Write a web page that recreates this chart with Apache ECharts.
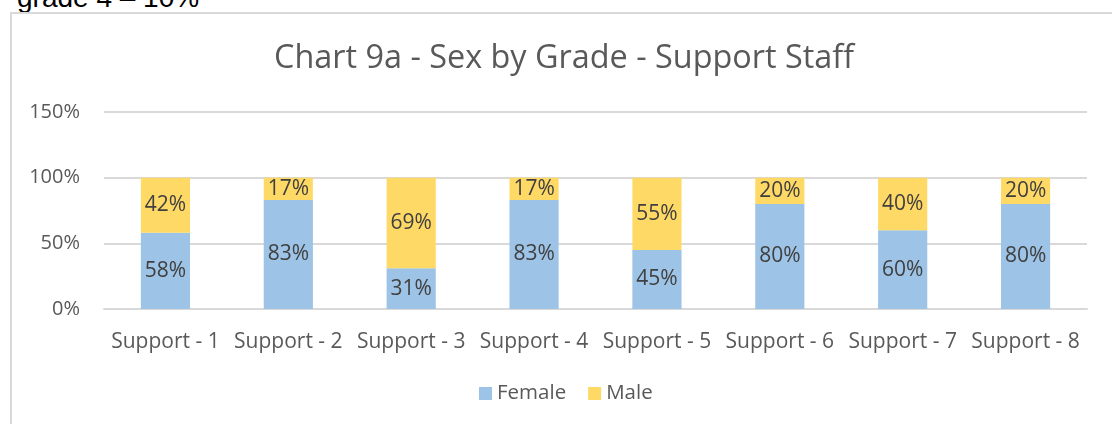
<!DOCTYPE html>
<html>
<head>
<meta charset="utf-8">
<script src="https://cdn.jsdelivr.net/npm/echarts@6/dist/echarts.min.js"></script>
<style>
  html, body { margin: 0; padding: 0; background: #fff; overflow: hidden; }
  #note {
    position: absolute; left: 17px; top: -18px; line-height: 28px;
    font: 28px "Liberation Sans", Arial, sans-serif; color: #000;
  }
  #frame {
    position: absolute; left: 10px; top: 12px; width: 1200px; height: 500px;
    border: 2px solid #d9d9d9; box-sizing: border-box;
  }
  #chart { position: absolute; left: 0; top: 0; width: 1112px; height: 424px; }
</style>
</head>
<body>
<div id="note">grade 4 – 10%</div>
<div id="frame"></div>
<div id="chart"></div>
<script>
const grades = ['Support - 1', 'Support - 2', 'Support - 3', 'Support - 4',
                'Support - 5', 'Support - 6', 'Support - 7', 'Support - 8']
const female = [58, 83, 31, 83, 45, 80, 60, 80]
const male = [42, 17, 69, 17, 55, 20, 40, 20]
const yTicks = [0, 50, 100, 150]

const font = '"Open Sans", sans-serif'
const labelStyle = {
  show: true,
  position: 'inside',
  formatter: '{c}%',
  color: '#404040',
  fontSize: 21,
  fontFamily: font
}

const myChart = echarts.init(document.getElementById('chart'))
myChart.setOption({
  title: {
    text: 'Chart 9a - Sex by Grade - Support Staff',
    left: 269,
    top: 38,
    textStyle: { color: '#595959', fontSize: 32.4, fontWeight: 'normal', fontFamily: font }
  },
  legend: {
    bottom: 15,
    left: 474,
    itemWidth: 13,
    itemHeight: 13,
    itemGap: 22,
    icon: 'rect',
    textStyle: { color: '#595959', fontSize: 20.5, fontFamily: font }
  },
  grid: { left: 104, right: 25, top: 112, bottom: 115 },
  xAxis: {
    type: 'category',
    data: grades,
    axisLine: { lineStyle: { color: '#d9d9d9', width: 2 } },
    axisTick: { show: false },
    axisLabel: { color: '#595959', fontSize: 21, fontFamily: font, margin: 23, interval: 0 }
  },
  yAxis: {
    type: 'value',
    min: yTicks[0],
    max: yTicks[yTicks.length - 1],
    interval: 50,
    axisLabel: { formatter: '{value}%', color: '#595959', fontSize: 20, fontFamily: font, margin: 24 },
    splitLine: { lineStyle: { color: '#d9d9d9', width: 2 } },
    axisLine: { show: false },
    axisTick: { show: false }
  },
  series: [
    {
      name: 'Female',
      type: 'bar',
      stack: 'sex',
      data: female,
      barWidth: '40%',
      itemStyle: { color: '#9dc3e6' },
      label: labelStyle
    },
    {
      name: 'Male',
      type: 'bar',
      stack: 'sex',
      data: male,
      itemStyle: { color: '#ffd966' },
      label: labelStyle
    }
  ]
})
window.onresize = function () {
  myChart.resize()
}
</script>
</body>
</html>
